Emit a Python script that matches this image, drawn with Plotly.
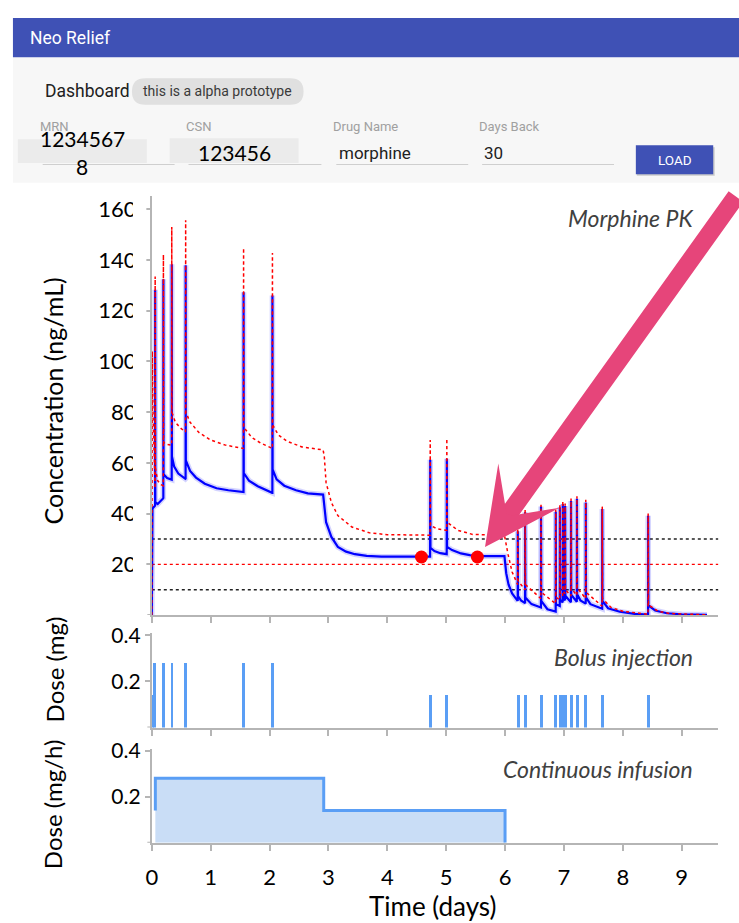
import plotly.graph_objects as go

# ---------------- data ----------------
pk_time = [
    0.000, 0.004, 0.012, 0.050,
    0.056, 0.057, 0.060, 0.100, 0.150, 0.192,
    0.196, 0.197, 0.200, 0.260, 0.334,
    0.338, 0.339, 0.342, 0.380, 0.450, 0.570,
    0.574, 0.575, 0.578, 0.650, 0.750, 0.900, 1.100, 1.300, 1.555,
    1.558, 1.559, 1.562, 1.650, 1.800, 2.045,
    2.048, 2.049, 2.052, 2.120, 2.250, 2.450, 2.650, 2.910, 2.930, 2.960, 3.050, 3.160, 3.300, 3.450, 3.650, 3.900, 4.727,
    4.728, 4.729, 4.733, 4.800, 4.900, 5.009,
    5.010, 5.011, 5.015, 5.100, 5.250, 5.400, 5.550, 5.990, 6.020, 6.060, 6.120, 6.214,
    6.215, 6.216, 6.220, 6.270, 6.339,
    6.340, 6.341, 6.345, 6.450, 6.609,
    6.610, 6.611, 6.615, 6.720, 6.859,
    6.860, 6.861, 6.865, 6.929,
    6.930, 6.931, 6.935, 6.979,
    6.980, 6.981, 6.985, 7.019,
    7.020, 7.021, 7.025, 7.119,
    7.120, 7.121, 7.125, 7.219,
    7.220, 7.221, 7.225, 7.280, 7.369,
    7.370, 7.371, 7.375, 7.450, 7.649,
    7.650, 7.651, 7.655, 7.750, 7.950, 8.200, 8.429,
    8.430, 8.431, 8.435, 8.550, 8.750, 9.000, 9.430,
]
pk_conc = [
    0.0, 8.0, 42.0, 43.0,
    43.2, 128.3, 44.5, 43.8, 44.8, 46.0,
    46.2, 132.4, 55.5, 54.0, 53.3,
    53.4, 138.3, 62.5, 58.5, 55.8, 53.7,
    53.8, 137.9, 61.0, 56.8, 54.2, 51.8, 50.0, 49.2, 48.5,
    48.5, 127.3, 56.0, 53.0, 50.8, 48.2,
    48.2, 126.0, 57.4, 53.5, 51.0, 49.2, 48.0, 47.5, 43.0, 36.6, 30.8, 26.9, 25.0, 24.0, 23.3, 23.0, 23.0,
    23.0, 61.2, 26.5, 25.2, 24.4, 24.0,
    24.0, 61.6, 26.9, 25.6, 24.3, 23.6, 23.2, 23.2, 16.5, 12.0, 8.5, 5.6,
    5.5, 33.0, 7.5, 5.8, 4.8,
    4.7, 40.5, 6.9, 4.3, 3.0,
    3.0, 42.8, 5.6, 2.3, 1.4,
    1.4, 40.7, 4.3, 3.6,
    3.6, 42.5, 6.0, 5.0,
    5.0, 43.8, 7.0, 5.8,
    5.8, 43.0, 7.6, 5.0,
    5.0, 45.0, 8.0, 5.2,
    5.2, 45.9, 8.2, 5.8, 4.5,
    4.5, 44.4, 7.0, 4.3, 2.5,
    2.5, 41.8, 5.6, 2.7, 1.3, 0.5, 0.2,
    0.2, 39.2, 3.8, 1.8, 0.7, 0.3, 0.1,
]

upper_time = [
    0.000, 0.008, 0.020, 0.040, 0.055,
    0.056, 0.057, 0.060, 0.100, 0.150, 0.195,
    0.196, 0.197, 0.200, 0.260, 0.337,
    0.338, 0.339, 0.342, 0.400, 0.500, 0.573,
    0.574, 0.575, 0.578, 0.650, 0.800, 1.000, 1.250, 1.557,
    1.558, 1.559, 1.562, 1.700, 1.850, 2.047,
    2.048, 2.049, 2.052, 2.150, 2.300, 2.550, 2.910, 2.930, 2.960, 3.050, 3.160, 3.400, 3.700, 4.000, 4.727,
    4.728, 4.729, 4.733, 4.850, 5.009,
    5.010, 5.011, 5.015, 5.200, 5.450, 5.990, 6.050, 6.120, 6.214,
    6.215, 6.216, 6.220, 6.339,
    6.340, 6.341, 6.345, 6.609,
    6.610, 6.611, 6.615, 6.859,
    6.860, 6.861, 6.865, 6.929,
    6.930, 6.931, 6.935, 6.979,
    6.980, 6.981, 6.985, 7.019,
    7.020, 7.021, 7.025, 7.119,
    7.120, 7.121, 7.125, 7.219,
    7.220, 7.221, 7.225, 7.369,
    7.370, 7.371, 7.375, 7.649,
    7.650, 7.651, 7.655, 7.800, 8.000, 8.429,
    8.430, 8.431, 8.435, 8.600, 8.800, 9.430,
]
upper_conc = [
    0.0, 104.0, 80.0, 55.0, 50.0,
    50.0, 133.5, 58.0, 53.0, 51.5, 51.0,
    51.0, 142.1, 68.0, 67.3, 67.0,
    67.0, 153.0, 80.0, 76.0, 73.5, 72.2,
    72.2, 155.7, 80.0, 76.0, 72.0, 69.0, 67.0, 65.7,
    65.7, 144.7, 74.0, 70.0, 67.8, 65.7,
    65.7, 142.8, 75.0, 71.0, 68.5, 66.3, 65.1, 62.5, 52.2, 44.4, 39.2, 34.7, 32.4, 31.7, 31.5,
    31.5, 69.0, 35.3, 34.0, 33.4,
    33.4, 69.6, 36.6, 33.4, 31.8, 31.5, 24.0, 17.0, 12.0,
    12.0, 34.0, 13.5, 10.0,
    10.0, 41.5, 12.0, 6.5,
    6.5, 43.5, 9.0, 4.5,
    4.5, 41.5, 7.0, 6.0,
    6.0, 43.5, 8.5, 7.5,
    7.5, 45.0, 9.5, 8.5,
    8.5, 44.0, 10.0, 7.5,
    7.5, 46.0, 10.5, 7.8,
    7.8, 46.8, 10.8, 6.5,
    6.5, 45.5, 9.0, 3.5,
    3.5, 42.8, 6.5, 3.0, 1.5, 0.3,
    0.3, 40.0, 4.0, 1.5, 0.6, 0.1,
]

level_black = [10, 30]
level_red = [20]
marker_time = [4.58, 5.53]
marker_conc = [22.9, 22.9]

bolus_time = [0.01, 0.05, 0.19, 0.34, 0.575, 1.56, 2.05,
              4.73, 5.01, 6.22, 6.34, 6.61, 6.86, 6.93, 6.98, 7.02, 7.12, 7.22, 7.37, 7.65, 8.43]
bolus_dose = [0.14, 0.28, 0.28, 0.28, 0.28, 0.28, 0.28,
              0.14, 0.14, 0.14, 0.14, 0.14, 0.14, 0.14, 0.14, 0.14, 0.14, 0.14, 0.14, 0.14, 0.14]

infusion_time = [0.06, 0.06, 2.92, 6.0]
infusion_rate = [0.14, 0.28, 0.14, 0.0]

x_ticks = [0, 1, 2, 3, 4, 5, 6, 7, 8, 9]
conc_ticks = [20, 40, 60, 80, 100, 120, 140, 160]
dose_ticks = [0.2, 0.4]

# ---------------- helpers (page geometry) ----------------
W, H = 739, 923


def px(x):
    return x / W


def py(y):
    return 1 - y / H


def rrect(x0, y0, x1, y1, r):
    def P(a, b):
        return f"{px(a):.5f},{py(b):.5f}"
    return (f"M{P(x0 + r, y0)} L{P(x1 - r, y0)} Q{P(x1, y0)} {P(x1, y0 + r)} "
            f"L{P(x1, y1 - r)} Q{P(x1, y1)} {P(x1 - r, y1)} L{P(x0 + r, y1)} "
            f"Q{P(x0, y1)} {P(x0, y1 - r)} L{P(x0, y0 + r)} Q{P(x0, y0)} {P(x0 + r, y0)} Z")


CHART_FONT = "Lato"
UI_FONT = "Roboto"
AXIS_GRAY = "#B5B5B5"
BAR_BLUE = "#5A9EF5"
BG = "white"

fig = go.Figure()

fig.add_trace(go.Scatter(x=pk_time, y=pk_conc, mode="lines",
                         line=dict(color="rgba(40,40,255,0.20)", width=5.5),
                         hoverinfo="skip", xaxis="x", yaxis="y"))
fig.add_trace(go.Scatter(x=pk_time, y=pk_conc, mode="lines",
                         line=dict(color="#0000FF", width=2.2), xaxis="x", yaxis="y"))
fig.add_trace(go.Scatter(x=upper_time, y=upper_conc, mode="lines",
                         line=dict(color="#FF0000", width=1.5, dash="dot"), xaxis="x", yaxis="y"))
fig.add_trace(go.Scatter(x=marker_time, y=marker_conc, mode="markers",
                         marker=dict(color="#FF0000", size=13), xaxis="x", yaxis="y"))

fig.add_trace(go.Bar(x=bolus_time, y=bolus_dose, width=0.05,
                     marker=dict(color=BAR_BLUE, line_width=0), xaxis="x2", yaxis="y2"))

fig.add_trace(go.Scatter(x=infusion_time, y=infusion_rate, mode="lines",
                         line=dict(color=BAR_BLUE, width=3, shape="hv"),
                         fill="tozeroy", fillcolor="#C9DDF6", xaxis="x3", yaxis="y3"))

xdom = [px(147), px(718)]
xcommon = dict(domain=xdom, range=[0, 9.62], showline=True, linecolor=AXIS_GRAY, linewidth=2,
               ticks="outside", tickvals=x_ticks, ticklen=6, tickcolor=AXIS_GRAY, tickwidth=1.5,
               showgrid=False, zeroline=False, fixedrange=True)
ycommon = dict(showline=True, linecolor=AXIS_GRAY, linewidth=2, ticks="outside", ticklen=5,
               tickcolor=AXIS_GRAY, tickwidth=1.5, showgrid=False, zeroline=False, fixedrange=True)

fig.update_layout(
    width=W, height=H, autosize=False,
    margin=dict(l=0, r=0, t=0, b=0, pad=0),
    paper_bgcolor=BG, plot_bgcolor=BG,
    showlegend=False, bargap=0,
    xaxis=dict(**xcommon, anchor="y", showticklabels=False),
    yaxis=dict(**ycommon, domain=[py(611), py(186)], range=[0, 165.4], tickvals=conc_ticks,
               tickfont=dict(family=CHART_FONT, size=22, color="black"), anchor="x",
               ticklabelstandoff=4),
    xaxis2=dict(**xcommon, anchor="y2", showticklabels=False),
    yaxis2=dict(**ycommon, domain=[py(725), py(629)], range=[0, 0.4107], tickvals=dose_ticks,
                ticktext=[f"{v:.1f}" for v in dose_ticks],
                tickfont=dict(family=CHART_FONT, size=21, color="black"), anchor="x2"),
    xaxis3=dict(**xcommon, anchor="y3", showticklabels=True,
                tickfont=dict(family=CHART_FONT, size=22, color="black"), ticklabelstandoff=8),
    yaxis3=dict(**ycommon, domain=[py(841.7), py(746.7)], range=[0, 0.4069], tickvals=dose_ticks,
                ticktext=[f"{v:.1f}" for v in dose_ticks],
                tickfont=dict(family=CHART_FONT, size=21, color="black"), anchor="x3"),
)

shapes = []
for lv in level_black:
    shapes.append(dict(type="line", xref="x domain", yref="y", x0=0, x1=1, y0=lv, y1=lv,
                       line=dict(color="#222222", width=1.6, dash="dot"), layer="below"))
for lv in level_red:
    shapes.append(dict(type="line", xref="x domain", yref="y", x0=0, x1=1, y0=lv, y1=lv,
                       line=dict(color="#FF0000", width=1.4, dash="dot"), layer="below"))
# cropped right edge of the PK tick labels (as in the source picture)
shapes.append(dict(type="rect", xref="paper", yref="paper", x0=px(128), x1=px(141.5),
                   y0=py(604), y1=py(186), fillcolor=BG, line_width=0, layer="above"))
# small overhang of each time axis to the left of its value axis
for yr in ["y", "y2", "y3"]:
    shapes.append(dict(type="line", xref="paper", yref=yr, x0=px(142.5), x1=px(147), y0=0, y1=0,
                       line=dict(color=AXIS_GRAY, width=2)))

shapes += [
    dict(type="rect", xref="paper", yref="paper", x0=px(7), x1=1, y0=py(46), y1=py(6),
         fillcolor="#3F51B5", line_width=0),
    dict(type="rect", xref="paper", yref="paper", x0=px(7), x1=1, y0=py(173), y1=py(46),
         fillcolor="#F7F7F7", line_width=0),
    dict(type="path", xref="paper", yref="paper", path=rrect(127, 67, 300, 94, 13.5),
         fillcolor="#E0E0E0", line_width=0),
    dict(type="rect", xref="paper", yref="paper", x0=px(12), x1=px(142), y0=py(153), y1=py(129),
         fillcolor="#EBEBEB", line_width=0),
    dict(type="rect", xref="paper", yref="paper", x0=px(165), x1=px(295), y0=py(153), y1=py(128),
         fillcolor="#EBEBEB", line_width=0),
    dict(type="rect", xref="paper", yref="paper", x0=px(636), x1=px(714.5), y0=py(166), y1=py(137),
         fillcolor="rgba(0,0,0,0.18)", line_width=0),
    dict(type="rect", xref="paper", yref="paper", x0=px(635), x1=px(713), y0=py(164.5), y1=py(135),
         fillcolor="#3F51B5", line_width=0),
]
for (a, b) in [(37, 170), (184, 318), (333, 466), (480, 613)]:
    shapes.append(dict(type="line", xref="paper", yref="paper", x0=px(a), x1=px(b), y0=py(154.5),
                       y1=py(154.5), line=dict(color="#CFCFCF", width=1)))
fig.update_layout(shapes=shapes)


def txt(text, x, y, size, color, family, xanchor="left", yanchor="middle", angle=0):
    return dict(text=text, x=px(x), y=py(y), xref="paper", yref="paper", showarrow=False,
                xanchor=xanchor, yanchor=yanchor, textangle=angle,
                font=dict(family=family, size=size, color=color))


annotations = [
    txt("Neo Relief", 22, 26, 17.5, "white", UI_FONT),
    txt("Dashboard", 37, 80.5, 17.5, "#212121", UI_FONT),
    txt("this is a alpha prototype", 213.5, 80.5, 14, "#3A3A3A", UI_FONT, xanchor="center"),
    txt("MRN", 32, 116, 13, "#A0A0A0", UI_FONT),
    txt("CSN", 179, 116, 13, "#A0A0A0", UI_FONT),
    txt("Drug Name", 328, 116, 13, "#A0A0A0", UI_FONT),
    txt("Days Back", 475, 116, 13, "#A0A0A0", UI_FONT),
    txt("1234567", 77, 128, 21, "black", CHART_FONT, xanchor="center"),
    txt("8", 77, 157, 21, "black", CHART_FONT, xanchor="center"),
    txt("123456", 230, 142.5, 21, "black", CHART_FONT, xanchor="center"),
    txt("morphine", 334, 143, 17, "#212121", UI_FONT),
    txt("30", 480, 143, 17, "#212121", UI_FONT),
    txt("LOAD", 674, 150, 13.5, "white", UI_FONT, xanchor="center"),
    txt("<i>Morphine PK</i>", 695, 209, 23, "#404040", CHART_FONT, xanchor="right"),
    txt("<i>Bolus injection</i>", 695, 653, 23, "#404040", CHART_FONT, xanchor="right"),
    txt("<i>Continuous infusion</i>", 695, 767, 23, "#404040", CHART_FONT, xanchor="right"),
    txt("Concentration (ng/mL)", 47, 394, 25, "black", CHART_FONT, xanchor="center", angle=-90),
    txt("Dose (mg)", 48.5, 666, 24, "black", CHART_FONT, xanchor="center", angle=-90),
    txt("Dose (mg/h)", 47, 803, 24, "black", CHART_FONT, xanchor="center", angle=-90),
    txt("Time (days)", 430, 906, 26, "black", CHART_FONT, xanchor="center"),
    dict(text="", x=5.66, y=26.8, xref="x", yref="y", ax=252, ay=-352, showarrow=True,
         arrowhead=3, arrowsize=0.7, arrowwidth=18, arrowcolor="#E6457A"),
]
fig.update_layout(annotations=annotations)

fig.write_html("out.html")
